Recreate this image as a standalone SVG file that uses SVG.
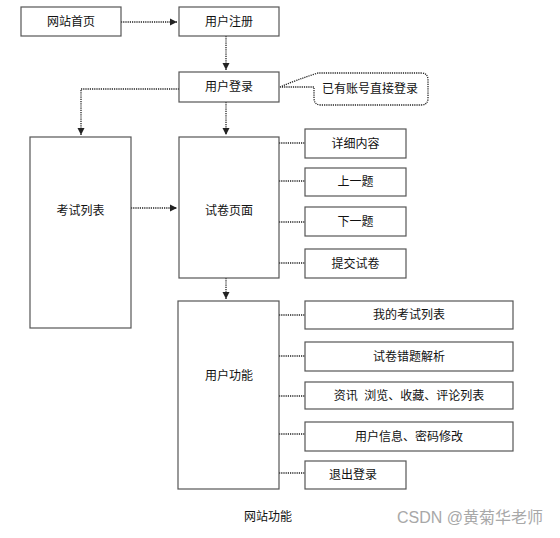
<svg xmlns="http://www.w3.org/2000/svg" width="560" height="538" viewBox="0 0 560 538">
<defs>
<marker id="ah" markerWidth="8" markerHeight="8" refX="7" refY="4" orient="auto" markerUnits="userSpaceOnUse">
<path d="M0,0.5 L7,4 L0,7.5 Z" fill="#222"/>
</marker>
<style>
.box{fill:#fff;stroke:#555;stroke-width:1.2}
.t{font-family:"Liberation Sans","Noto Sans CJK SC",sans-serif;font-size:12px;fill:#111;text-anchor:middle;dominant-baseline:central}
.c{fill:none;stroke:#222;stroke-width:1.3;stroke-dasharray:1.2,1}
</style>
</defs>
<rect width="560" height="538" fill="#fff"/>
<g id="connectors">
<path class="c" d="M121,22 H177" marker-end="url(#ah)"/>
<path class="c" d="M226,36 V70" marker-end="url(#ah)"/>
<path class="c" d="M179,89 H81 V135" marker-end="url(#ah)"/>
<path class="c" d="M226,102 V135" marker-end="url(#ah)"/>
<path class="c" d="M131,208 H177" marker-end="url(#ah)"/>
<path class="c" d="M226,278 V299" marker-end="url(#ah)"/>
<path class="c" d="M279,143 H305 M279,181 H305 M279,222 H305 M279,263 H305"/>
<path class="c" d="M279,315 H305 M279,356 H305 M279,396 H305 M279,434 H305 M279,473 H305"/>
</g>
<g id="n1"><rect class="box" x="21" y="7" width="100" height="29"/><text class="t" x="71" y="21.5">网站首页</text></g>
<g id="n2"><rect class="box" x="179" y="7" width="100" height="29"/><text class="t" x="229" y="21.5">用户注册</text></g>
<g id="n3"><rect class="box" x="179" y="72" width="100" height="30"/><text class="t" x="229" y="87">用户登录</text></g>
<g id="n4"><path d="M280,87 Q296,80 318,73 H421 Q428,73 428,80 V98 Q428,105 421,105 H321 Q314,105 314,98 V87 Z" fill="#fff" stroke="#222" stroke-width="1.3" stroke-dasharray="1.2,1"/><text class="t" x="370" y="89">已有账号直接登录</text></g>
<g id="n5"><rect class="box" x="30" y="137" width="101" height="191"/><text class="t" x="80.5" y="211">考试列表</text></g>
<g id="n6"><rect class="box" x="179" y="137" width="100" height="141"/><text class="t" x="229" y="211">试卷页面</text></g>
<g id="n7"><rect class="box" x="305" y="129" width="101" height="29"/><text class="t" x="355.5" y="143.5">详细内容</text></g>
<g id="n8"><rect class="box" x="305" y="168" width="101" height="28"/><text class="t" x="355.5" y="182">上一题</text></g>
<g id="n9"><rect class="box" x="305" y="207" width="101" height="29"/><text class="t" x="355.5" y="221.5">下一题</text></g>
<g id="n10"><rect class="box" x="305" y="249" width="101" height="29"/><text class="t" x="355.5" y="263.5">提交试卷</text></g>
<g id="n11"><rect class="box" x="178" y="301" width="101" height="188"/><text class="t" x="229" y="376">用户功能</text></g>
<g id="n12"><rect class="box" x="305" y="301" width="208" height="28"/><text class="t" x="409" y="315">我的考试列表</text></g>
<g id="n13"><rect class="box" x="305" y="342" width="208" height="29"/><text class="t" x="409" y="356.5">试卷错题解析</text></g>
<g id="n14"><rect class="box" x="305" y="382" width="208" height="27"/><text class="t" x="409" y="396" xml:space="preserve">资讯  浏览、收藏、评论列表</text></g>
<g id="n15"><rect class="box" x="305" y="422" width="208" height="29"/><text class="t" x="409" y="436.5">用户信息、密码修改</text></g>
<g id="n16"><rect class="box" x="305" y="461" width="101" height="28"/><text class="t" x="353" y="475">退出登录</text></g>
<text class="t" x="268" y="517">网站功能</text>
<text x="543" y="517" font-family="Liberation Sans,'Noto Sans CJK SC',sans-serif" font-size="16" fill="#a8a8a8" text-anchor="end" dominant-baseline="central">CSDN @黄菊华老师</text>
</svg>
